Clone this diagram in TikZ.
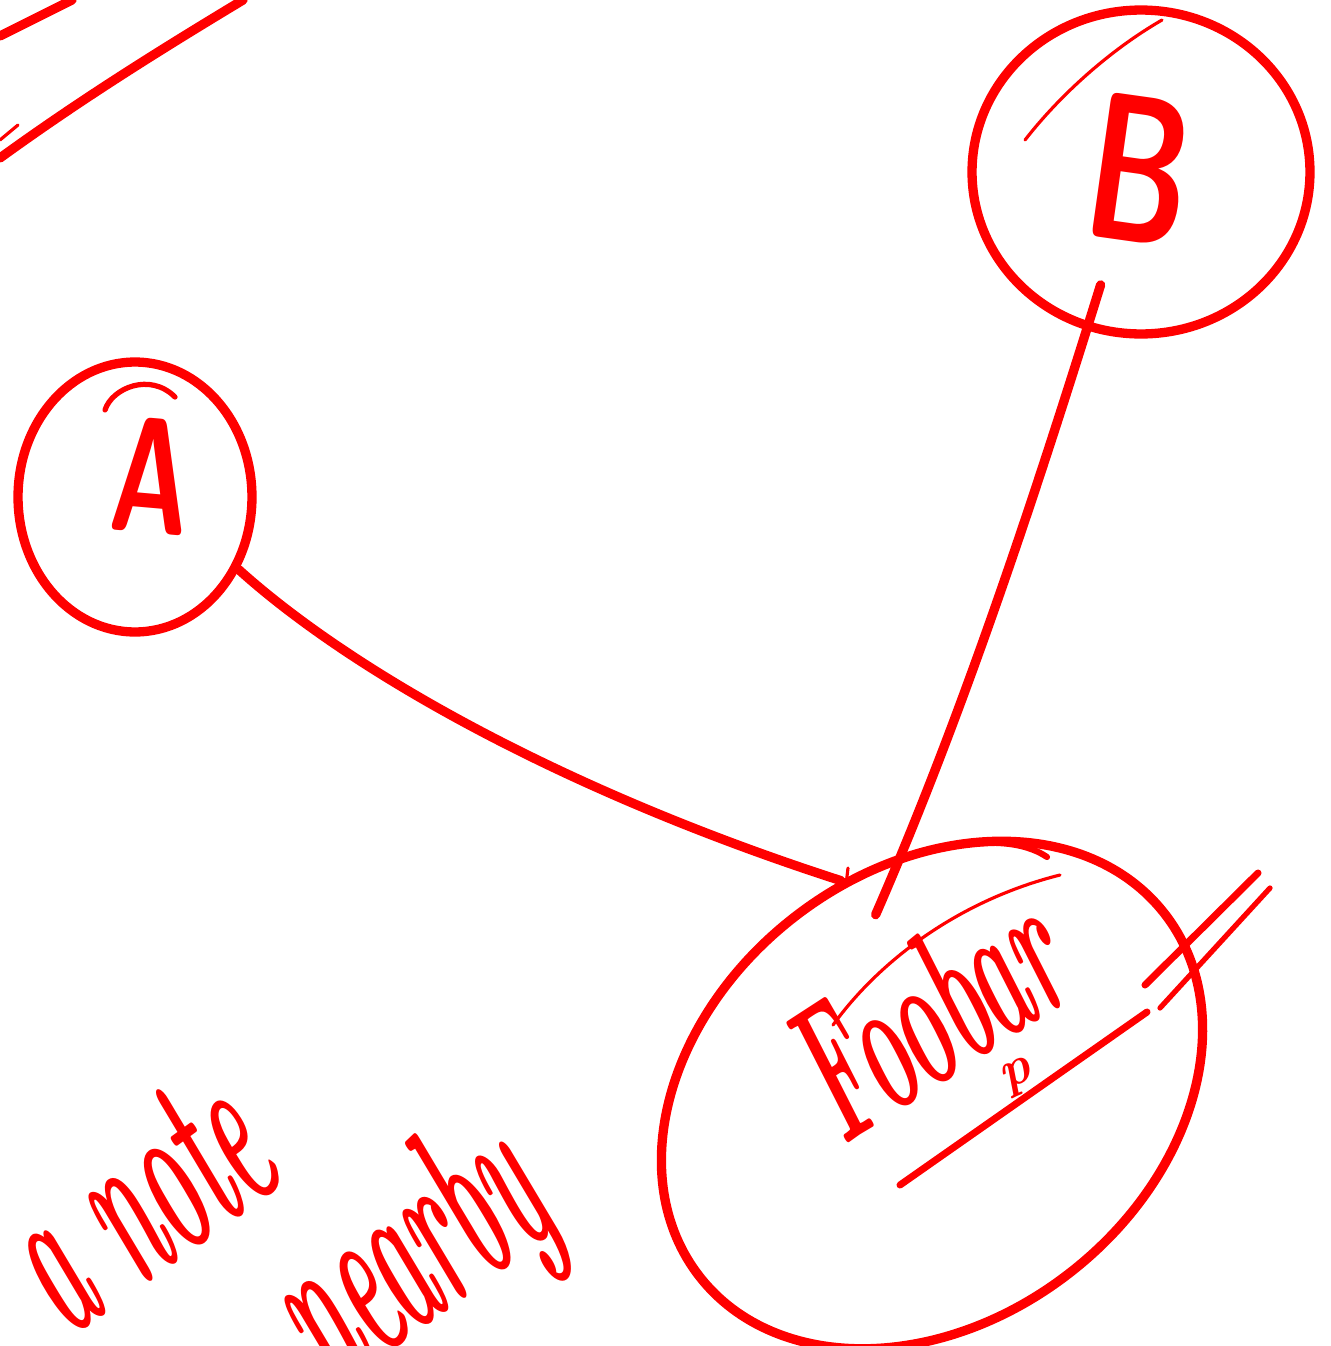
\documentclass[tikz,border=0pt]{standalone}
\usepackage{graphicx}
\usetikzlibrary{shapes.geometric}
\begin{document}
\begin{tikzpicture}[x=0.02cm,y=-0.02cm,
  sk/.style={draw=red, line width=5.3pt, line cap=round, line join=round},
  thinsk/.style={draw=red, line width=1.8pt, line cap=round, line join=round},
  shapeA/.style={sk, ellipse, inner sep=0pt},
  handtxt/.style={text=red, inner sep=0pt, font=\fontsize{78}{90}\selectfont\bfseries\itshape},
  lettertxt/.style={text=red, inner sep=0pt, font=\sffamily\bfseries}]
\useasboundingbox (0,0) rectangle (1331,1346);

% top-left strokes
\draw[sk] (0,36) -- (72,0);
\draw[sk] (0,158) .. controls (80,100) and (160,50) .. (243,0);
\draw[thinsk] (0,140) -- (18,125);

% nodes
\node[shapeA, minimum width=4.68cm, minimum height=5.4cm] (A) at (135,497) {};
\node[shapeA, minimum width=6.76cm, minimum height=6.48cm] (B) at (1141,172) {};
\node[shapeA, minimum width=11.8cm, minimum height=9cm, rotate=38] (F) at (932,1095) {};

% labels
\node[lettertxt, rotate=-5] (Atxt) at (152,476) {\fontsize{94}{100}\selectfont\scalebox{0.65}[1]{A}};
\node[lettertxt, rotate=-8] (Btxt) at (1140,170) {\fontsize{119}{125}\selectfont\scalebox{0.67}[1]{B}};
\node[handtxt, rotate=33] (Ftxt) at (925,1012) {\scalebox{0.62}[1.45]{Foobar}};
\node[handtxt, rotate=25, font=\fontsize{30}{32}\selectfont\bfseries\itshape] (ptxt) at (1018,1078) {p};
\node[handtxt, rotate=36] (note1) at (135,1200) {\scalebox{0.62}[1.7]{a note}};
\node[handtxt, rotate=36] (note2) at (415,1262) {\scalebox{0.62}[1.7]{nearby}};

% sketchy extra strokes
\draw[sk, line width=3pt] (105,410) .. controls (112,388) and (150,372) .. (175,397);
\draw[thinsk] (1025,140) .. controls (1060,95) and (1110,50) .. (1162,20);
\draw[sk, line width=3.5pt] (835,890) .. controls (900,852) and (1000,825) .. (1047,857);
\draw[thinsk] (833,1025) .. controls (880,960) and (960,900) .. (1060,875);
\draw[sk, line width=4pt] (900,1185) -- (1147,1012);
\draw[sk, line width=4pt] (1145,985) -- (1258,873);
\draw[sk, line width=3pt] (1160,1008) -- (1270,888);

% connectors
\draw[sk] (A.-35) .. controls (350,670) and (560,790) .. (F.75);
\draw[thinsk] (848,868) -- (846,885);
\draw[sk, shorten <=-27pt, shorten >=-38pt] (B.-109) .. controls (1040,480) and (965,710) .. (F.59);
\end{tikzpicture}
\end{document}
